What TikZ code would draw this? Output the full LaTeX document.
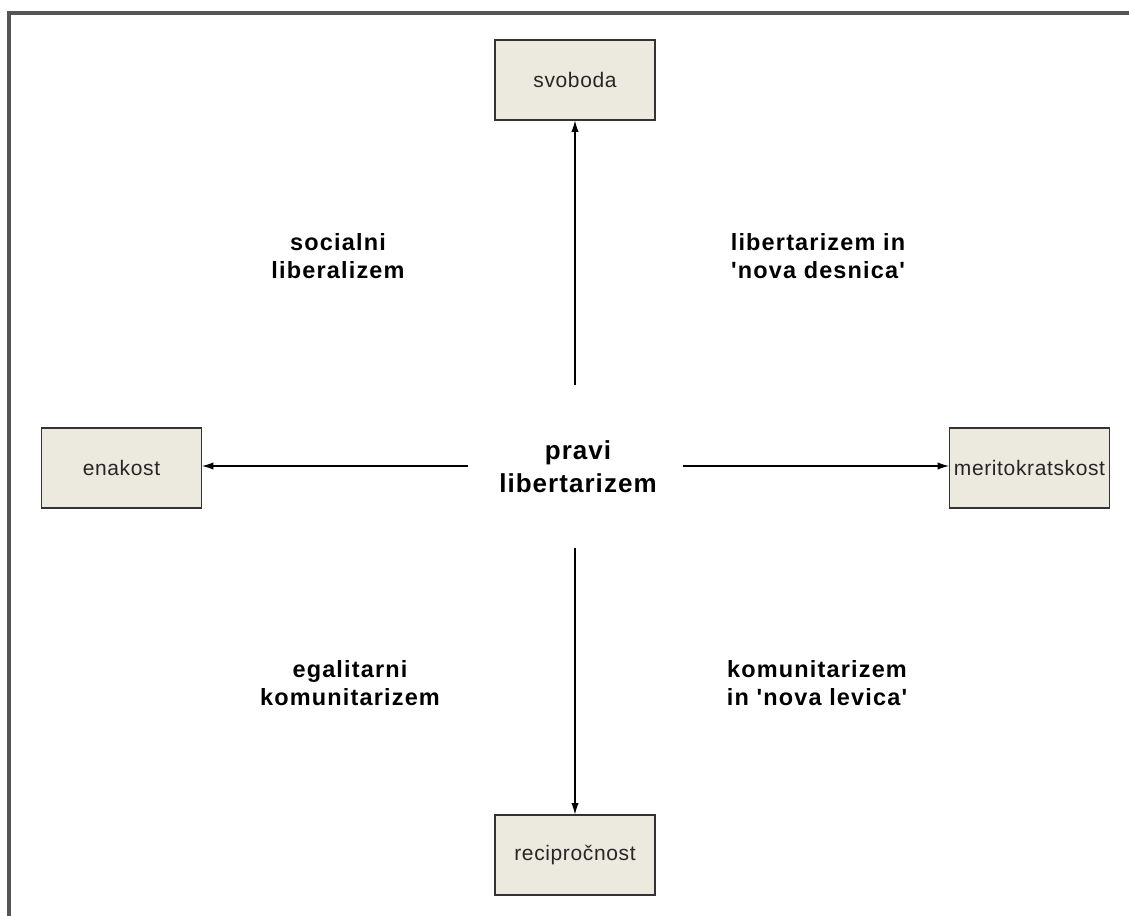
\documentclass[tikz,border=0pt]{standalone}
\usepackage{fontspec}
\setmainfont{Liberation Sans}
\newfontfamily\boxfont[LetterSpace=3]{Liberation Sans}
\newfontfamily\quadfont[LetterSpace=5]{Liberation Sans}
\newfontfamily\hubfont[LetterSpace=4]{Liberation Sans}
\usetikzlibrary{arrows.meta}
\definecolor{boxfill}{HTML}{ECE9DF}
\definecolor{boxline}{HTML}{333333}
\definecolor{frameline}{HTML}{555555}
\tikzset{
  valuebox/.style={draw=boxline, fill=boxfill, line width=0.9pt,
    minimum width=120pt, minimum height=60pt, inner sep=0pt,
    font=\boxfont\fontsize{15.75pt}{18pt}\selectfont, text=black!85},
  quadlabel/.style={align=center, inner sep=0pt,
    font=\quadfont\bfseries\fontsize{17.6pt}{21pt}\selectfont},
  hublabel/.style={align=center, inner sep=0pt,
    font=\hubfont\bfseries\fontsize{19.5pt}{24.5pt}\selectfont},
  axis/.style={line width=0.8pt, -{Latex[length=8.5pt,width=5.5pt]}}
}
\begin{document}
\begin{tikzpicture}[x=0.75pt, y=-0.75pt]
  \useasboundingbox (0,0) rectangle (1129,916);
  % frame: top and left edges only
  \draw[frameline, line width=2.4pt] (9,916) -- (9,13) -- (1129,13);

  % the four values
  \node[valuebox] (svoboda) at (575,80) {svoboda};
  \node[valuebox] (enakost) at (121.5,468) {enakost};
  \node[valuebox] (merit) at (1029.5,468) {meritokratskost};
  \node[valuebox] (recip) at (575,855) {recipročnost};

  % centre
  \node[hublabel] (hub) at (578,467) {pravi\\libertarizem};

  % arrow start points around the centre
  \coordinate (up) at (575,385);
  \coordinate (down) at (575,548);
  \coordinate (left) at (468,466);
  \coordinate (right) at (683,466);

  \draw[axis] (up) -- (svoboda.south);
  \draw[axis] (down) -- (recip.north);
  \draw[axis] (left) -- (left -| enakost.east);
  \draw[axis] (right) -- (right -| merit.west);

  % quadrant labels
  \node[quadlabel] (q1) at (338,256) {socialni\\liberalizem};
  \node[quadlabel] (q2) at (818,256) {libertarizem in\\'nova desnica'};
  \node[quadlabel] (q3) at (350,683) {egalitarni\\komunitarizem};
  \node[quadlabel] (q4) at (817,683) {komunitarizem\\in 'nova levica'};
\end{tikzpicture}
\end{document}
